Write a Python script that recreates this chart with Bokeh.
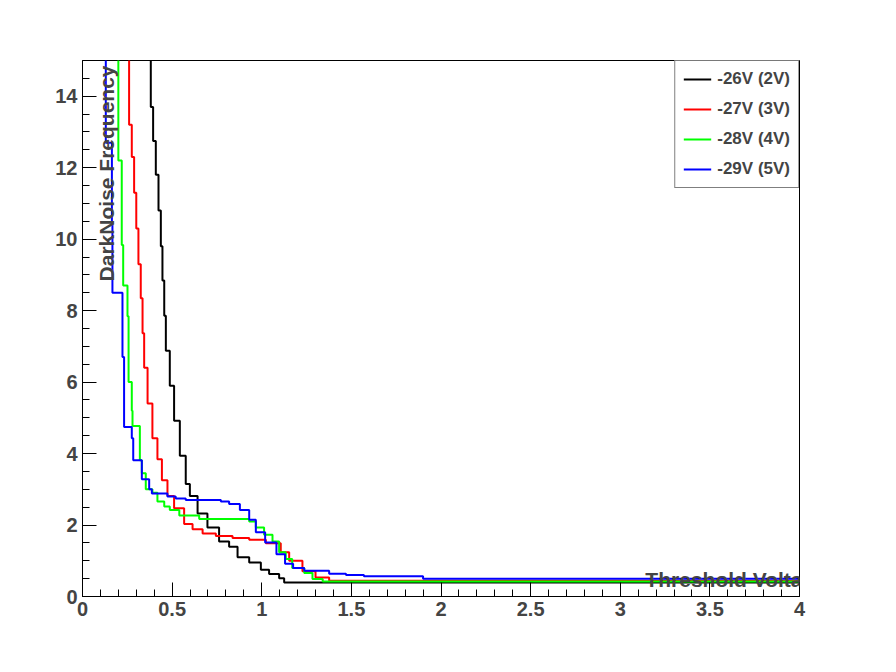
import math
from bokeh.plotting import figure
from bokeh.models import Label, Range1d, FixedTicker, Legend, LegendItem
from bokeh.embed import file_html
from bokeh.resources import INLINE

# threshold (mV) where each step starts, and rate (MHz) held from there on
x26 = [0.366, 0.381, 0.394, 0.409, 0.424, 0.437, 0.446, 0.456, 0.465, 0.487, 0.511, 0.543,
       0.576, 0.599, 0.642, 0.697, 0.762, 0.818, 0.865, 0.93, 0.995, 1.041, 1.097, 1.125, 4.0]
y26 = [16, 13.7, 12.75, 11.8, 10.8, 9.8, 8.84, 7.86, 6.88, 5.9, 4.92, 3.94,
       3.15, 2.81, 2.32, 1.93, 1.54, 1.39, 1.10, 0.95, 0.75, 0.63, 0.51, 0.39, 0.39]
x27 = [0.247, 0.26, 0.275, 0.288, 0.30, 0.312, 0.325, 0.335, 0.344, 0.363, 0.39, 0.418, 0.443,
       0.474, 0.511, 0.567, 0.614, 0.67, 0.744, 0.837, 0.93, 1.023, 1.106, 1.153, 1.227, 1.30,
       1.376, 4.0]
y27 = [16, 13.2, 12.3, 11.3, 10.3, 9.3, 8.35, 7.37, 6.4, 5.4, 4.43, 3.84, 3.25,
       2.81, 2.47, 2.03, 1.88, 1.76, 1.69, 1.64, 1.59, 1.49, 1.24, 1.0, 0.71, 0.53,
       0.44, 0.44]
x28 = [0.186, 0.20, 0.219, 0.227, 0.251, 0.257, 0.275, 0.279, 0.32, 0.331, 0.353, 0.39, 0.418,
       0.456, 0.487, 0.54, 0.651, 0.93, 0.967, 1.013, 1.06, 1.097, 1.134, 1.17, 1.237, 1.283,
       1.34, 4.0]
y28 = [16, 12.2, 9.84, 8.7, 7.84, 6.0, 5.2, 4.77, 3.81, 3.45, 3.0, 2.9, 2.66,
       2.52, 2.42, 2.27, 2.17, 2.1, 1.93, 1.73, 1.54, 1.24, 1.05, 0.80, 0.66, 0.49,
       0.42, 0.42]
x29 = [0.126, 0.13, 0.164, 0.167, 0.223, 0.232, 0.275, 0.283, 0.331, 0.372, 0.387, 0.474,
       0.52, 0.576, 0.772, 0.818, 0.878, 0.93, 0.967, 1.019, 1.082, 1.13, 1.175, 1.237,
       1.376, 1.47, 1.57, 1.9, 4.0]
y29 = [16, 12.7, 10.4, 8.5, 6.7, 4.74, 4.43, 3.81, 3.28, 3.0, 2.88, 2.8,
       2.74, 2.70, 2.66, 2.59, 2.42, 2.15, 1.80, 1.51, 1.18, 0.92, 0.80, 0.72,
       0.64, 0.6, 0.57, 0.5, 0.5]

series = [("-26V (2V)", x26, y26, "black"), ("-27V (3V)", x27, y27, "red"),
          ("-28V (4V)", x28, y28, "#00ff00"), ("-29V (5V)", x29, y29, "blue")]

FONT = "Liberation Sans"

p = figure(width=880, height=656, output_backend="svg", toolbar_location=None,
           x_range=Range1d(0, 4), y_range=Range1d(0, 15),
           min_border_left=82, min_border_right=81, min_border_top=60, min_border_bottom=60)
p.grid.visible = False
p.outline_line_color = "black"
p.outline_line_width = 1

for ax in (p.xaxis, p.yaxis):
    ax.major_tick_in = 14
    ax.major_tick_out = 0
    ax.minor_tick_in = 7
    ax.minor_tick_out = 0
    ax.major_label_text_font = FONT
    ax.major_label_text_font_style = "bold"
    ax.major_label_text_font_size = "20px"
    ax.axis_line_color = "black"

xt = [0, 0.5, 1, 1.5, 2, 2.5, 3, 3.5, 4]
p.xaxis.ticker = FixedTicker(ticks=xt, minor_ticks=[i * 0.1 for i in range(41)])
p.xaxis.major_label_overrides = {t: ("%g" % t) for t in xt}
p.yaxis.ticker = FixedTicker(ticks=list(range(0, 15, 2)), minor_ticks=[i * 0.5 for i in range(31)])

items = []
for name, xs, ys, c in series:
    r = p.step(xs, ys, mode="after", line_color=c, line_width=2)
    items.append(LegendItem(label=name, renderers=[r]))

leg = Legend(items=items, location="top_right", border_line_color="black", border_line_width=1,
             label_text_font=FONT, label_text_font_style="bold", label_text_font_size="17px",
             glyph_width=28, spacing=10, padding=8, margin=0, label_standoff=6)
p.add_layout(leg)

p.add_layout(Label(x=8, y=643, x_units="screen", y_units="screen", text="DarkNoise PE p9",
                   text_font=FONT, text_font_style="bold", text_font_size="24px",
                   text_baseline="middle", border_line_color="black", background_fill_color="white",
                   padding=8))
p.add_layout(Label(x=797, y=17, x_units="screen", y_units="screen", text="Threshold Voltage (mV)",
                   text_font=FONT, text_font_style="bold", text_font_size="21px",
                   text_align="right", text_baseline="middle"))
p.add_layout(Label(x=24, y=594, x_units="screen", y_units="screen", text="DarkNoise Frequency (MHz)",
                   text_font=FONT, text_font_style="bold", text_font_size="21px",
                   text_align="right", text_baseline="middle", angle=math.pi / 2))

open("out.html", "w").write(file_html(p, INLINE))
